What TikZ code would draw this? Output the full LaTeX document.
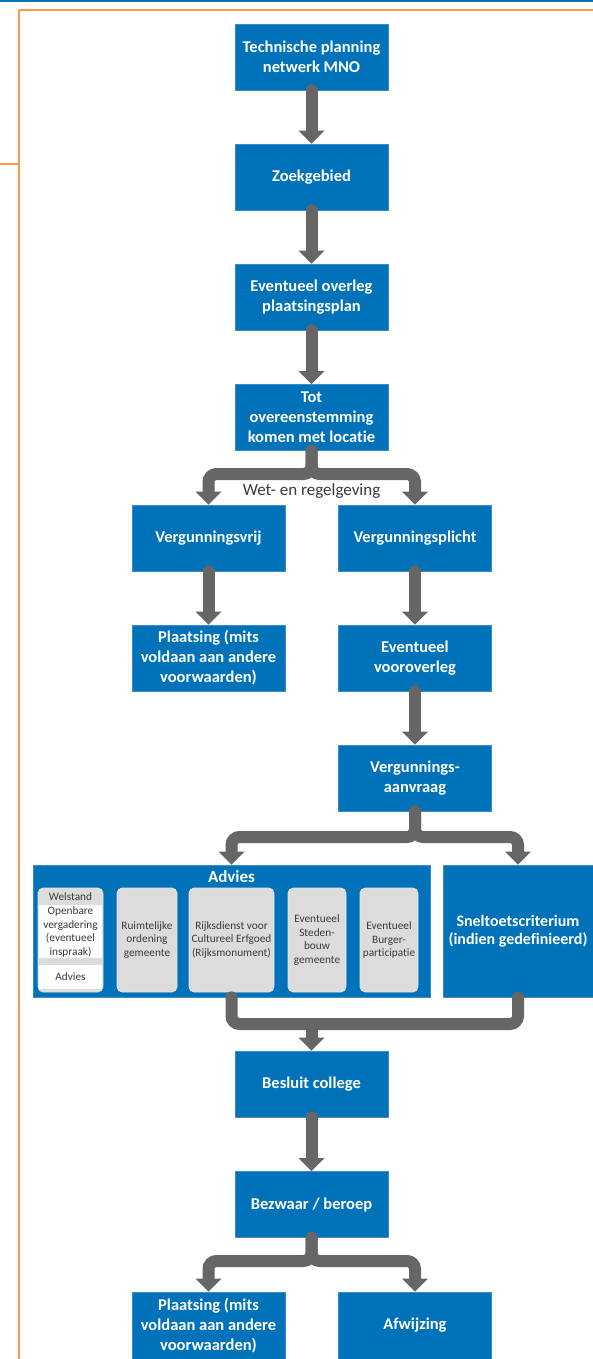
\documentclass[tikz,border=0pt]{standalone}
\usepackage{fontspec}
\setmainfont{Carlito}[Ligatures=NoCommon]
\definecolor{boxblue}{HTML}{0072BA}
\definecolor{edgeblue}{HTML}{3A8DCB}
\definecolor{pipegray}{HTML}{666666}
\definecolor{cardgray}{HTML}{DCDCDC}
\definecolor{cardedge}{HTML}{E6E6E6}
\definecolor{inkgray}{HTML}{3A3A3A}
\definecolor{frameorange}{HTML}{F99B4E}
\definecolor{topblue}{HTML}{0070B0}
\tikzset{
  stepbox/.style={rectangle, fill=boxblue, draw=edgeblue, line width=0.7pt,
    minimum width=153pt, minimum height=66pt, inner sep=0pt, text=white,
    align=center, font=\bfseries\fontsize{16.5}{20}\selectfont},
  card/.style={rectangle, rounded corners=5pt, fill=cardgray, draw=cardedge,
    line width=0.6pt, minimum height=104pt, inner sep=0pt, text=inkgray,
    align=center, font=\fontsize{11.3}{13.4}\selectfont},
  cardtext/.style={inner sep=0pt, text=inkgray, align=center,
    font=\fontsize{11.3}{13.4}\selectfont},
  whitepanel/.style={rectangle, fill=white, draw=none, minimum width=63pt, inner sep=0pt},
  pipe/.style={draw=pipegray, line width=12pt, line cap=round, rounded corners=8pt},
  frame/.style={draw=frameorange, line width=2pt},
}
% filled arrow head whose tip touches the north side of a node
\newcommand{\tipon}[1]{\fill[pipegray] ([xshift=-13pt,yshift=13pt]#1.north) -- (#1.north) -- ([xshift=13pt,yshift=13pt]#1.north) -- cycle;}
\begin{document}
\begin{tikzpicture}[x=1pt,y=-1pt]
\useasboundingbox (0,0) rectangle (593,1359);

% page rules
\draw[topblue, line width=2.5pt] (0,1) -- (593,1);
\draw[frame] (19,10) -- (593,10);
\draw[frame] (19,10) -- (19,1359);
\draw[frame] (0,164) -- (19,164);

% main column
\node[stepbox] (plan) at (311.5,57) {Technische planning\\netwerk MNO};
\node[stepbox] (zoek) at (311.5,177) {Zoekgebied};
\node[stepbox] (overleg) at (311.5,297) {Eventueel overleg\\plaatsingsplan};
\node[stepbox] (locatie) at (311.5,417.5) {Tot\\overeenstemming\\komen met locatie};

\node[stepbox] (vrij) at (208.5,538) {Vergunningsvrij};
\node[stepbox] (plicht) at (415,538) {Vergunningsplicht};
\node[stepbox] (plaatsA) at (208.5,658) {Plaatsing (mits\\voldaan aan andere\\voorwaarden)};
\node[stepbox] (vooroverleg) at (415,658) {Eventueel\\vooroverleg};
\node[stepbox] (aanvraag) at (415,778) {Vergunnings-\\aanvraag};

% advice panel
\node[stepbox, minimum width=397pt, minimum height=132pt] (advies) at (231.5,931) {};
\node[text=white, font=\bfseries\fontsize{17}{20}\selectfont, inner sep=0pt] (adviestitel) at (231.5,876.5) {Advies};

\node[card, minimum width=65pt] (welstand) at (70.5,940) {};
\node[whitepanel, minimum height=53pt] (openbaarvlak) at (70.5,931.5) {};
\node[whitepanel, minimum height=24pt] (adviesvlak) at (70.5,977) {};
\node[cardtext] (welstandtxt) at (70.5,896.5) {Welstand};
\node[cardtext] (openbaar) at (70.5,932) {Openbare\\vergadering\\(eventueel\\inspraak)};
\node[cardtext] (welstandadvies) at (70.5,977) {Advies};

\node[card, minimum width=60pt] (ruimte) at (147,940) {Ruimtelijke\\ordening\\gemeente};
\node[card, minimum width=85pt] (rijks) at (231.5,940) {Rijksdienst voor\\Cultureel Erfgoed\\(Rijksmonument)};
\node[card, minimum width=58pt] (steden) at (317,940) {Eventueel\\Steden-\\bouw\\gemeente};
\node[card, minimum width=58pt] (burger) at (389,940) {Eventueel\\Burger-\\participatie};

\node[stepbox, minimum width=150pt, minimum height=132pt,
      font=\bfseries\fontsize{16}{18.5}\selectfont] (snel) at (518,931) {Sneltoetscriterium\\(indien gedefinieerd)};

\node[stepbox] (besluit) at (311.5,1084) {Besluit college};
\node[stepbox] (bezwaar) at (311.5,1204.5) {Bezwaar / beroep};
\node[stepbox, minimum height=67pt] (plaatsB) at (208.5,1325.5) {Plaatsing (mits\\voldaan aan andere\\voorwaarden)};
\node[stepbox, minimum height=67pt] (afwijzing) at (415,1325.5) {Afwijzing};

% junction points of the branching connectors
\coordinate (splitA) at (311.5,474);
\coordinate (splitB) at (415,837);
\coordinate (joinC) at (311.5,1024);
\coordinate (splitD) at (311.5,1261);

\node[text=inkgray, font=\fontsize{17}{20}\selectfont, inner sep=0pt] (wet) at (311.5,491) {Wet- en regelgeving};

% straight connectors
\draw[pipe] (plan.south) -- ([yshift=13pt]zoek.north);
\tipon{zoek}
\draw[pipe] (zoek.south) -- ([yshift=13pt]overleg.north);
\tipon{overleg}
\draw[pipe] (overleg.south) -- ([yshift=13pt]locatie.north);
\tipon{locatie}
\draw[pipe] (vrij.south) -- ([yshift=13pt]plaatsA.north);
\tipon{plaatsA}
\draw[pipe] (plicht.south) -- ([yshift=13pt]vooroverleg.north);
\tipon{vooroverleg}
\draw[pipe] (vooroverleg.south) -- ([yshift=13pt]aanvraag.north);
\tipon{aanvraag}
\draw[pipe] (besluit.south) -- ([yshift=13pt]bezwaar.north);
\tipon{bezwaar}

% branch after the location agreement
\draw[pipe] (locatie.south) -- (splitA) -| ([yshift=13pt]vrij.north);
\draw[pipe] (locatie.south) -- (splitA) -| ([yshift=13pt]plicht.north);
\tipon{vrij}
\tipon{plicht}

% branch after the application
\draw[pipe] (aanvraag.south) -- (splitB) -| ([yshift=13pt]advies.north);
\draw[pipe] (aanvraag.south) -- (splitB) -| ([yshift=13pt]snel.north);
\tipon{advies}
\tipon{snel}

% advice and quick test join towards the decision
\draw[pipe] (advies.south) |- (joinC) -| (snel.south);
\draw[pipe, line cap=butt] (joinC) -- ([yshift=13pt]besluit.north);
\tipon{besluit}

% final branch
\draw[pipe] (bezwaar.south) -- (splitD) -| ([yshift=13pt]plaatsB.north);
\draw[pipe] (bezwaar.south) -- (splitD) -| ([yshift=13pt]afwijzing.north);
\tipon{plaatsB}
\tipon{afwijzing}
\end{tikzpicture}
\end{document}
